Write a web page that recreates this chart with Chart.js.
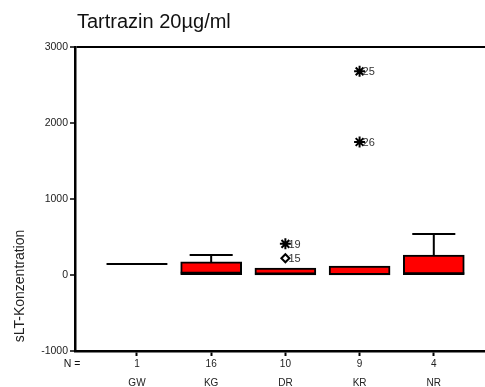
<!DOCTYPE html>
<html>
<head>
<meta charset="utf-8">
<script src="https://cdn.jsdelivr.net/npm/chart.js@4.4.1/dist/chart.umd.min.js"></script>
<style>
  html, body { margin: 0; padding: 0; background: #fff; }
  #wrap { width: 485px; height: 387px; }
</style>
</head>
<body>
<div id="wrap"><canvas id="box"></canvas></div>
<script>
const groups = ['GW', 'KG', 'DR', 'KR', 'NR']
const counts = ['1', '16', '10', '9', '4']
const q1 = [145, 5, 2, 2, 3]
const median = [145, 28, 20, 12, 22]
const q3 = [145, 172, 92, 118, 263]
const whiskMin = [145, 0, 0, 0, 0]
const whiskMax = [145, 263, 92, 118, 540]
// outliers: [group number, value, case number, kind]
const outliers = [
  [3, 410, '19', 'extreme'],
  [3, 220, '15', 'outlier'],
  [4, 2680, '25', 'extreme'],
  [4, 1750, '26', 'extreme']
]
const yTicks = [-1000, 0, 1000, 2000, 3000]

Chart.defaults.font.family = '"Liberation Sans", Arial, sans-serif'
Chart.defaults.color = '#222'

const halfBox = 0.41
const halfCap = 0.29

// boxes (GW has only one case, no box)
const boxData = []
groups.forEach((g, i) => {
  if (q3[i] > q1[i]) boxData.push({ x: i + 1, y: [q1[i], q3[i]] })
})

// whiskers, caps and medians as line segments split by nulls
const lineData = []
groups.forEach((g, i) => {
  const x = i + 1
  if (whiskMax[i] > q3[i]) {
    lineData.push({ x: x, y: q3[i] }, { x: x, y: whiskMax[i] }, { x: x, y: null })
    lineData.push({ x: x - halfCap, y: whiskMax[i] }, { x: x + halfCap, y: whiskMax[i] }, { x: x, y: null })
  }
  if (whiskMin[i] < q1[i] && q3[i] > q1[i]) {
    lineData.push({ x: x, y: q1[i] }, { x: x, y: whiskMin[i] }, { x: x, y: null })
  }
  lineData.push({ x: x - halfBox, y: median[i] }, { x: x + halfBox, y: median[i] }, { x: x, y: null })
})

const extremes = outliers.filter(o => o[3] === 'extreme').map(o => ({ x: o[0], y: o[1] }))
const mild = outliers.filter(o => o[3] === 'outlier').map(o => ({ x: o[0], y: o[1] }))

const annotate = {
  id: 'annotate',
  afterDraw(chart) {
    const ctx = chart.ctx
    const xs = chart.scales.x
    const ys = chart.scales.y
    ctx.save()
    // title
    ctx.fillStyle = '#111'
    ctx.font = '20px "Liberation Sans", Arial, sans-serif'
    ctx.textAlign = 'left'
    ctx.textBaseline = 'middle'
    ctx.fillText('Tartrazin 20µg/ml', 77, 22)
    // y title
    ctx.save()
    ctx.translate(20, 286)
    ctx.rotate(-Math.PI / 2)
    ctx.textAlign = 'center'
    ctx.font = '14px "Liberation Sans", Arial, sans-serif'
    ctx.fillStyle = '#222'
    ctx.fillText('sLT-Konzentration', 0, 0)
    ctx.restore()
    // N =
    ctx.font = '10.5px "Liberation Sans", Arial, sans-serif'
    ctx.textAlign = 'center'
    ctx.fillText('N =', 72, 364)
    // case labels
    ctx.font = '11px "Liberation Sans", Arial, sans-serif'
    ctx.textAlign = 'left'
    ctx.fillStyle = '#333'
    outliers.forEach(o => {
      ctx.fillText(o[2], xs.getPixelForValue(o[0]) + 3, ys.getPixelForValue(o[1]) + 1)
    })
    ctx.restore()
  }
}

new Chart(document.getElementById('box'), {
  type: 'bar',
  data: {
    datasets: [{
      type: 'bar',
      data: boxData,
      backgroundColor: '#ff0000',
      borderColor: '#000',
      borderWidth: 2,
      borderSkipped: false,
      barThickness: 61,
      order: 2
    }, {
      type: 'line',
      data: lineData,
      borderColor: '#000',
      borderWidth: 2,
      pointRadius: 0,
      spanGaps: false,
      fill: false,
      order: 1
    }, {
      type: 'scatter',
      data: extremes,
      pointStyle: 'star',
      pointRadius: 5.5,
      borderColor: '#000',
      borderWidth: 2,
      order: 0
    }, {
      type: 'scatter',
      data: mild,
      pointStyle: 'rectRot',
      pointRadius: 4,
      backgroundColor: '#fff',
      borderColor: '#000',
      borderWidth: 2,
      order: 0
    }]
  },
  options: {
    responsive: true,
    maintainAspectRatio: false,
    animation: false,
    layout: { autoPadding: false, padding: { top: 47, left: 0, right: 0, bottom: 0 } },
    plugins: {
      legend: { display: false },
      tooltip: { enabled: false },
      title: { display: false }
    },
    scales: {
      x: {
        type: 'linear',
        offset: false,
        min: 0.165,
        max: 5.69,
        afterFit: s => { s.height = 36; s.paddingLeft = 0; s.paddingRight = 0 },
        afterBuildTicks: s => { s.ticks = groups.map((g, i) => ({ value: i + 1 })) },
        ticks: {
          autoSkip: false,
          maxRotation: 0,
          padding: -1.5,
          font: { size: 10, lineHeight: 1.9 },
          color: '#222',
          callback: v => [counts[v - 1], groups[v - 1]]
        },
        grid: { offset: false, drawOnChartArea: false, tickLength: 5, tickColor: '#000', tickWidth: 2 },
        border: { color: '#000', width: 2.5 }
      },
      y: {
        min: -1000,
        max: 3000,
        afterFit: s => { s.width = 75 },
        afterBuildTicks: s => { s.ticks = yTicks.map(v => ({ value: v })) },
        ticks: { font: { size: 10.5 }, color: '#222', padding: 2, callback: v => String(v) },
        grid: {
          color: c => (c.tick && c.tick.value === 3000 ? '#000' : 'rgba(0,0,0,0)'),
          lineWidth: 2,
          tickLength: 5,
          tickColor: '#000',
          tickWidth: 1.5
        },
        border: { color: '#000', width: 2.5 }
      }
    }
  },
  plugins: [annotate]
})
</script>
</body>
</html>
